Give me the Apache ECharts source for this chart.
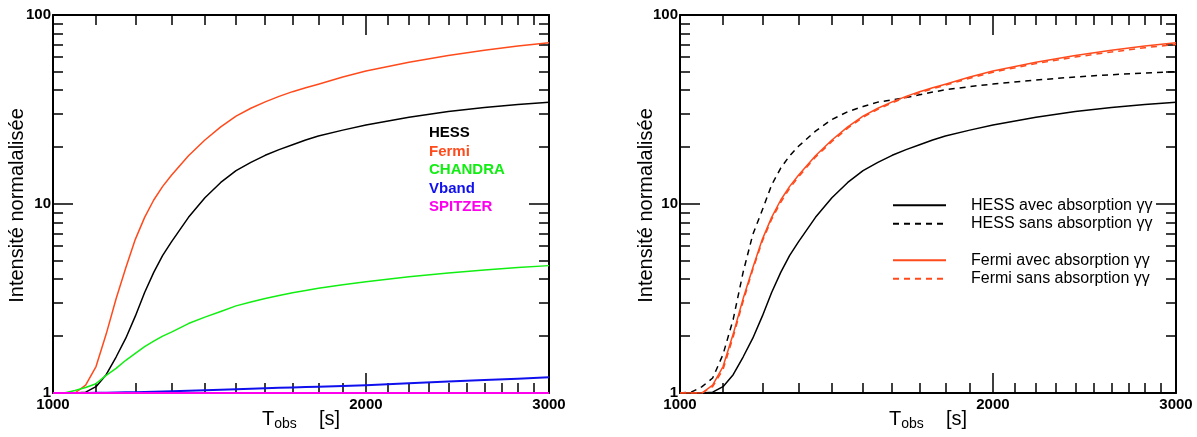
<!DOCTYPE html>
<html>
<head>
<meta charset="utf-8">
<script src="https://cdn.jsdelivr.net/npm/echarts@6/dist/echarts.min.js"></script>
<style>
html,body{margin:0;padding:0;background:#fff;}
#c{width:1197px;height:437px;}
</style>
</head>
<body>
<div id="c"></div>
<script>
// ---- data ----
var tObs      = [1000, 1025, 1050, 1075, 1100, 1125, 1150, 1175, 1200, 1225, 1250, 1275, 1300, 1350, 1400, 1450, 1500, 1550, 1600, 1650, 1700, 1750, 1800, 1900, 2000, 2200, 2400, 2600, 2800, 3000];
var hessAvec  = [1, 1, 1, 1.01, 1.08, 1.25, 1.55, 1.95, 2.55, 3.4, 4.35, 5.35, 6.3, 8.5, 10.8, 13.0, 15.0, 16.6, 18.1, 19.4, 20.6, 21.8, 22.9, 24.6, 26.2, 28.8, 30.9, 32.4, 33.6, 34.5];
var fermiAvec = [1, 1, 1, 1.10, 1.38, 2.05, 3.15, 4.6, 6.5, 8.5, 10.5, 12.4, 14.2, 18.0, 21.8, 25.6, 29.2, 32.1, 34.7, 37.1, 39.3, 41.2, 43.0, 47.0, 50.5, 56.2, 61.0, 65.0, 68.5, 71.4];
var chandra   = [1, 1, 1.03, 1.07, 1.12, 1.24, 1.35, 1.49, 1.62, 1.76, 1.88, 2.0, 2.1, 2.33, 2.52, 2.7, 2.89, 3.03, 3.16, 3.28, 3.39, 3.49, 3.58, 3.74, 3.88, 4.12, 4.32, 4.48, 4.62, 4.72];
var vband     = [1, 1, 1, 1, 1.002, 1.004, 1.006, 1.008, 1.01, 1.013, 1.016, 1.019, 1.022, 1.028, 1.035, 1.041, 1.047, 1.053, 1.06, 1.065, 1.07, 1.075, 1.08, 1.09, 1.10, 1.125, 1.15, 1.17, 1.19, 1.21];
var spitzer   = [1, 1, 1, 1, 1, 1, 1, 1, 1, 1, 1, 1, 1, 1, 1, 1, 1, 1, 1, 1, 1, 1, 1, 1, 1, 1, 1, 1, 1, 1];
var hessSans  = [1, 1.01, 1.08, 1.2, 1.6, 2.45, 4.35, 6.9, 9.3, 12.6, 15.5, 18.0, 20.2, 24.3, 28.0, 30.8, 32.8, 34.6, 35.6, 36.6, 37.8, 39.1, 40.2, 41.8, 43.1, 45.3, 47.0, 48.3, 49.3, 50.1];
var fermiSans = [1, 1, 1, 1.08, 1.33, 1.98, 3.05, 4.5, 6.35, 8.3, 10.2, 12.1, 13.9, 17.7, 21.4, 25.2, 28.8, 31.7, 34.3, 36.7, 38.8, 40.7, 42.5, 46.3, 49.8, 55.3, 59.9, 63.7, 67.1, 69.8];

var xMajor = [1000, 2000, 3000];
var xMinor = [1100, 1200, 1300, 1400, 1500, 1600, 1700, 1800, 1900, 2100, 2200, 2300, 2400, 2500, 2600, 2700, 2800, 2900];
var yMajor = [1, 10, 100];
var yMinor = [2, 3, 4, 5, 6, 7, 8, 9, 20, 30, 40, 50, 60, 70, 80, 90];

var leftLegendNames = ['HESS', 'Fermi', 'CHANDRA', 'Vband', 'SPITZER'];
var rightLegendNames = ['HESS avec absorption γγ', 'HESS sans absorption γγ', 'Fermi avec absorption γγ', 'Fermi sans absorption γγ'];
var yTitle = 'Intensité normalalisée';

// ---- style ----
var FONT = 'Liberation Sans, Arial, Helvetica, sans-serif';
var C_BLACK = '#000000', C_FERMI = '#ff4a1c', C_CHANDRA = '#11ee11', C_VBAND = '#1010ee', C_SPITZER = '#ff00ee';
var grids = [
  {left: 53, top: 15, width: 496, height: 378, outerBoundsMode: 'none', containLabel: false},
  {left: 680, top: 15, width: 496, height: 378, outerBoundsMode: 'none', containLabel: false}
];
var yNameGaps = [26, 24];

function pairs(arr) { return tObs.map(function (x, i) { return [x, arr[i]]; }); }
function plain(v) { return String(Math.round(v)); }

var xAxes = [], yAxes = [];
function addAxes(gi) {
  var tickStyle = {color: '#000', width: 1.5};
  ['bottom', 'top'].forEach(function (pos) {
    xAxes.push({
      type: 'log', logBase: 10, min: 1000, max: 3000, gridIndex: gi, position: pos,
      axisLine: {show: true, onZero: false, lineStyle: {color: '#000', width: 2}},
      axisTick: {show: true, inside: true, length: 20, customValues: xMajor, lineStyle: tickStyle},
      axisLabel: pos === 'bottom' ? {
        show: true, customValues: xMajor, margin: 5, showMinLabel: true, showMaxLabel: true,
        formatter: plain,
        fontFamily: FONT, fontWeight: 'bold', fontSize: 15, lineHeight: 14, color: '#000'
      } : {show: false},
      splitLine: {show: false},
      name: pos === 'bottom' ? '{t|T}{s|obs}{t|    [s]}' : '',
      nameLocation: 'middle', nameGap: 14, nameMoveOverlap: false,
      nameTextStyle: {
        rich: {
          t: {fontFamily: FONT, fontSize: 20, lineHeight: 24, color: '#000'},
          s: {fontFamily: FONT, fontSize: 14, lineHeight: 14, padding: [10, 0, 0, 0], color: '#000'}
        }
      }
    });
    xAxes.push({
      type: 'log', logBase: 10, min: 1000, max: 3000, gridIndex: gi, position: pos,
      axisLine: {show: false, onZero: false},
      axisTick: {show: true, inside: true, length: 10, customValues: xMinor, lineStyle: tickStyle},
      axisLabel: {show: false},
      splitLine: {show: false}
    });
  });
  ['left', 'right'].forEach(function (pos) {
    yAxes.push({
      type: 'log', logBase: 10, min: 1, max: 100, gridIndex: gi, position: pos,
      axisLine: {show: true, onZero: false, lineStyle: {color: '#000', width: 2}},
      axisTick: {show: true, inside: true, length: 20, customValues: yMajor, lineStyle: tickStyle},
      axisLabel: pos === 'left' ? {
        show: true, customValues: yMajor, margin: 2, showMinLabel: true, showMaxLabel: true,
        formatter: plain,
        fontFamily: FONT, fontWeight: 'bold', fontSize: 15, color: '#000'
      } : {show: false},
      splitLine: {show: false},
      name: pos === 'left' ? yTitle : '',
      nameLocation: 'middle', nameRotate: 90, nameGap: yNameGaps[gi], nameMoveOverlap: false,
      nameTextStyle: {fontFamily: FONT, fontSize: 20, color: '#000', padding: [0, 3, 0, 0]}
    });
    yAxes.push({
      type: 'log', logBase: 10, min: 1, max: 100, gridIndex: gi, position: pos,
      axisLine: {show: false, onZero: false},
      axisTick: {show: true, inside: true, length: 10, customValues: yMinor, lineStyle: tickStyle},
      axisLabel: {show: false},
      splitLine: {show: false}
    });
  });
}
addAxes(0);
addAxes(1);

function line(name, arr, color, axIdx, width, dashed) {
  return {
    name: name, type: 'line', data: pairs(arr), xAxisIndex: axIdx, yAxisIndex: axIdx,
    symbol: 'none', showSymbol: false, smooth: false, animation: false,
    lineStyle: {color: color, width: width, type: dashed ? [6, 5] : 'solid', join: 'round'},
    itemStyle: {color: color}
  };
}

var series = [
  line(leftLegendNames[0], hessAvec, C_BLACK, 0, 1.5),
  line(leftLegendNames[1], fermiAvec, C_FERMI, 0, 1.5),
  line(leftLegendNames[2], chandra, C_CHANDRA, 0, 1.5),
  line(leftLegendNames[3], vband, C_VBAND, 0, 2),
  line(leftLegendNames[4], spitzer, C_SPITZER, 0, 2),
  line(rightLegendNames[0], hessAvec, C_BLACK, 4, 1.5),
  line(rightLegendNames[1], hessSans, C_BLACK, 4, 1.5, true),
  line(rightLegendNames[2], fermiAvec, C_FERMI, 4, 1.5),
  line(rightLegendNames[3], fermiSans, C_FERMI, 4, 1.5, true)
];

var leftColors = [C_BLACK, C_FERMI, C_CHANDRA, C_VBAND, C_SPITZER];
var rightLegendBase = {
  orient: 'vertical', left: 892, padding: 0, itemGap: 0, itemWidth: 53, itemHeight: 10,
  selectedMode: false,
  itemStyle: {opacity: 0},
  textStyle: {fontFamily: FONT, fontSize: 16, lineHeight: 18.5, color: '#000', padding: [0, 0, 0, 20]}
};

var option = {
  animation: false,
  backgroundColor: '#ffffff',
  grid: grids,
  xAxis: xAxes,
  yAxis: yAxes,
  legend: [
    {
      orient: 'vertical', left: 424, top: 124, padding: 0, itemGap: 0,
      itemWidth: 0, itemHeight: 0, selectedMode: false,
      itemStyle: {opacity: 0},
      textStyle: {fontFamily: FONT, fontSize: 15, fontWeight: 'bold', lineHeight: 18.5},
      data: leftLegendNames.map(function (n, i) {
        return {name: n, icon: 'rect', itemStyle: {opacity: 0}, textStyle: {color: leftColors[i]}};
      })
    },
    Object.assign({}, rightLegendBase, {top: 196, data: rightLegendNames.slice(0, 2)}),
    Object.assign({}, rightLegendBase, {top: 251, data: rightLegendNames.slice(2, 4)})
  ],
  series: series
};

var chart = echarts.init(document.getElementById('c'), null, {renderer: 'canvas'});
chart.setOption(option);
</script>
</body>
</html>
